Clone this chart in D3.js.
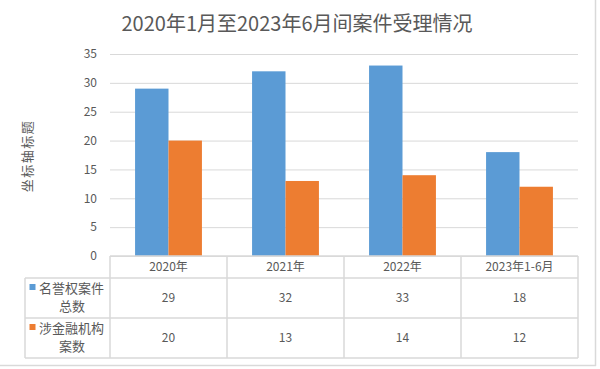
<!DOCTYPE html>
<html>
<head>
<meta charset="utf-8">
<script src="https://cdn.jsdelivr.net/npm/d3@7"></script>
<style>
  body { margin: 0; background: #fff; }
  text { font-family: "Noto Sans CJK SC", "Noto Sans", sans-serif; fill: #595959; }
</style>
</head>
<body>
<script>
// chart data
var categories = ["2020年", "2021年", "2022年", "2023年1-6月"];
var seriesNames = ["名誉权案件总数", "涉金融机构案数"];
var seriesLines = [["名誉权案件", "总数"], ["涉金融机构", "案数"]];
var reputationCases = [29, 32, 33, 18];
var financeCases = [20, 13, 14, 12];
var seriesValues = [reputationCases, financeCases];
var yTicks = [0, 5, 10, 15, 20, 25, 30, 35];
var colors = ["#5B9BD5", "#ED7D31"];

var width = 600, height = 369;
var plot = { left: 110, right: 578, top: 54, bottom: 256 };
var rowH = [22, 40, 40];   // header row, then one row per series
var tableLeft = 25;
var grid = "#d9d9d9";

var svg = d3.select("body")
    .append("svg")
    .attr("width", width)
    .attr("height", height);

// outer frame (right and bottom edge visible)
svg.append("line").attr("x1", 0).attr("x2", 596).attr("y1", 365.5).attr("y2", 365.5)
    .attr("stroke", grid).attr("stroke-width", 1.5);
svg.append("line").attr("x1", 595.5).attr("x2", 595.5).attr("y1", 0).attr("y2", 366)
    .attr("stroke", grid).attr("stroke-width", 1.5);

// title
svg.append("text")
    .attr("x", 297)
    .attr("y", 31)
    .attr("text-anchor", "middle")
    .style("font-size", "20px")
    .text("2020年1月至2023年6月间案件受理情况");

// scales
var x = d3.scaleBand()
    .domain(categories)
    .range([plot.left, plot.right])
    .padding(0);

var x1 = d3.scaleBand()
    .domain(seriesNames)
    .range([0, x.bandwidth()])
    .paddingInner(0)
    .paddingOuter(0.75);

var y = d3.scaleLinear()
    .domain([0, 35])
    .range([plot.bottom, plot.top]);

// gridlines + y labels
var yAxis = svg.append("g")
    .attr("transform", "translate(" + plot.left + ",0)")
    .call(d3.axisLeft(y).tickValues(yTicks).tickSize(-(plot.right - plot.left)).tickPadding(13));
yAxis.select(".domain").remove();
yAxis.selectAll(".tick line").attr("stroke", grid);
yAxis.selectAll(".tick text").style("font-size", "12px").attr("fill", "#595959");

// y axis title
svg.append("text")
    .attr("transform", "translate(32,156) rotate(-90)")
    .attr("text-anchor", "middle")
    .style("font-size", "13px")
    .style("letter-spacing", "1.5px")
    .text("坐标轴标题");

// bars
seriesNames.forEach(function(name, si) {
    svg.append("g")
        .selectAll("rect")
        .data(categories)
        .enter()
        .append("rect")
        .attr("x", function(d) { return x(d) + x1(name); })
        .attr("width", x1.bandwidth())
        .attr("y", function(d, i) { return y(seriesValues[si][i]); })
        .attr("height", function(d, i) { return y(0) - y(seriesValues[si][i]); })
        .attr("fill", colors[si]);
});

// data table
var rowY = [plot.bottom];
rowH.forEach(function(h) { rowY.push(rowY[rowY.length - 1] + h); });
var tableBottom = rowY[rowY.length - 1];
var tg = svg.append("g").attr("stroke", grid).attr("stroke-width", 1.5);

// horizontal lines
tg.append("line").attr("x1", plot.left).attr("x2", plot.right).attr("y1", rowY[0]).attr("y2", rowY[0]);
rowY.slice(1).forEach(function(yy) {
    tg.append("line").attr("x1", tableLeft).attr("x2", plot.right).attr("y1", yy).attr("y2", yy);
});
// vertical lines
tg.append("line").attr("x1", tableLeft).attr("x2", tableLeft).attr("y1", rowY[1]).attr("y2", tableBottom);
categories.forEach(function(c) {
    tg.append("line").attr("x1", x(c)).attr("x2", x(c)).attr("y1", rowY[0]).attr("y2", tableBottom);
});
tg.append("line").attr("x1", plot.right).attr("x2", plot.right).attr("y1", rowY[0]).attr("y2", tableBottom);

// header row
svg.append("g")
    .selectAll("text")
    .data(categories)
    .enter()
    .append("text")
    .attr("x", function(d) { return x(d) + x.bandwidth() / 2; })
    .attr("y", rowY[0] + rowH[0] / 2 + 4)
    .attr("text-anchor", "middle")
    .style("font-size", "12px")
    .text(function(d) { return d; });

// value rows + legend keys
seriesNames.forEach(function(name, si) {
    var top = rowY[si + 1], h = rowH[si + 1];
    svg.append("g")
        .selectAll("text")
        .data(categories)
        .enter()
        .append("text")
        .attr("x", function(d) { return x(d) + x.bandwidth() / 2; })
        .attr("y", top + h / 2 + 4)
        .attr("text-anchor", "middle")
        .style("font-size", "12px")
        .text(function(d, i) { return seriesValues[si][i]; });

    svg.append("rect")
        .attr("x", 29.5)
        .attr("y", top + 6)
        .attr("width", 6)
        .attr("height", 6)
        .attr("fill", colors[si]);

    svg.append("text")
        .attr("x", 39)
        .attr("y", top + 15)
        .style("font-size", "13px")
        .text(seriesLines[si][0]);
    svg.append("text")
        .attr("x", 72)
        .attr("y", top + 33)
        .attr("text-anchor", "middle")
        .style("font-size", "13px")
        .text(seriesLines[si][1]);
});
</script>
</body>
</html>
